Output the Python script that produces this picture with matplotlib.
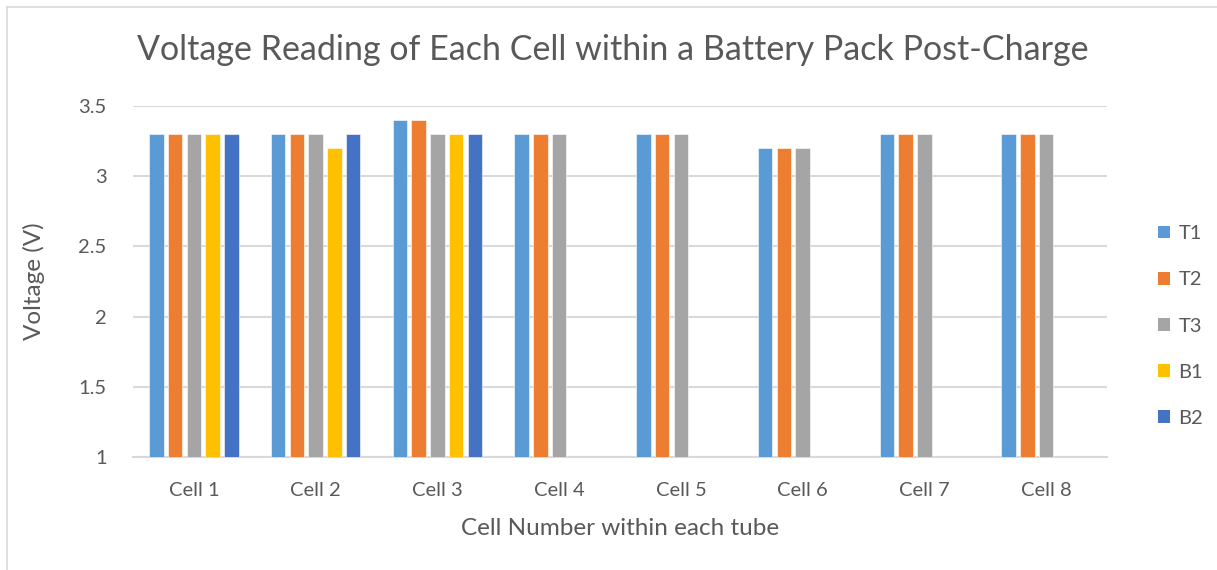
import numpy as np
import matplotlib.pyplot as plt
from matplotlib.lines import Line2D
from matplotlib.patches import Patch

plt.rcParams['font.family'] = ['Lato', 'DejaVu Sans']

cells = ['Cell 1', 'Cell 2', 'Cell 3', 'Cell 4', 'Cell 5', 'Cell 6', 'Cell 7', 'Cell 8']
series = ['T1', 'T2', 'T3', 'B1', 'B2']
t1 = [3.3, 3.3, 3.4, 3.3, 3.3, 3.2, 3.3, 3.3]
t2 = [3.3, 3.3, 3.4, 3.3, 3.3, 3.2, 3.3, 3.3]
t3 = [3.3, 3.3, 3.3, 3.3, 3.3, 3.2, 3.3, 3.3]
b1 = [3.3, 3.2, 3.3, np.nan, np.nan, np.nan, np.nan, np.nan]
b2 = [3.3, 3.3, 3.3, np.nan, np.nan, np.nan, np.nan, np.nan]
colors = ['#5B9BD5', '#ED7D31', '#A5A5A5', '#FFC000', '#4472C4']

text_col = '#595959'
grid_col = '#D9D9D9'

fig = plt.figure(figsize=(12.17, 5.70), dpi=100)
ax = fig.add_axes([133 / 1217, 1 - 457 / 570, (1107 - 133) / 1217, (457 - 106) / 570])

x = np.arange(len(cells))
slot = 0.1537
width = 0.119
for i, (vals, c) in enumerate(zip([t1, t2, t3, b1, b2], colors)):
    offs = (i - 2) * slot
    ax.bar(x + offs, vals, width=width, color=c, edgecolor='white', linewidth=0.4, zorder=3)

ax.set_xlim(-0.5, len(cells) - 0.5)
ax.set_ylim(1, 3.5)
ax.set_yticks([1, 1.5, 2, 2.5, 3, 3.5])
ax.set_yticklabels(['1', '1.5', '2', '2.5', '3', '3.5'])
ax.set_xticks(x)
ax.set_xticklabels(cells)
ax.tick_params(axis='both', length=0, labelsize=14.5, colors=text_col)
ax.tick_params(axis='x', pad=18)
ax.tick_params(axis='y', pad=19)
ax.yaxis.grid(True, color=grid_col, linewidth=1.5, zorder=0)
for s in ['top', 'right', 'left']:
    ax.spines[s].set_visible(False)
ax.spines['bottom'].set_color(grid_col)
ax.spines['bottom'].set_linewidth(1.5)

ax.set_xlabel('Cell Number within each tube', fontsize=17.5, color=text_col, labelpad=14)
ax.set_ylabel('Voltage (V)', fontsize=17.5, color=text_col, labelpad=24)
fig.text(0.5035, 1 - 50 / 570, 'Voltage Reading of Each Cell within a Battery Pack Post-Charge',
         ha='center', va='center', fontsize=24.5, color=text_col)

handles = [Patch(facecolor=c, edgecolor='none') for c in colors]
fig.legend(handles, series, loc='center left', bbox_to_anchor=(1140 / 1217, 1 - 326 / 570),
           frameon=False, fontsize=14.5, labelcolor=text_col, handlelength=0.6, handleheight=0.6,
           handletextpad=0.4, labelspacing=1.45)

# chart border
fig.add_artist(Line2D([7 / 1217, 7 / 1217], [0, 1 - 7 / 570], transform=fig.transFigure,
                      color='#D9D9D9', linewidth=1.2))
fig.add_artist(Line2D([7 / 1217, 1], [1 - 7 / 570, 1 - 7 / 570], transform=fig.transFigure,
                      color='#D9D9D9', linewidth=1.2))

fig.savefig('out.png', dpi=100)
